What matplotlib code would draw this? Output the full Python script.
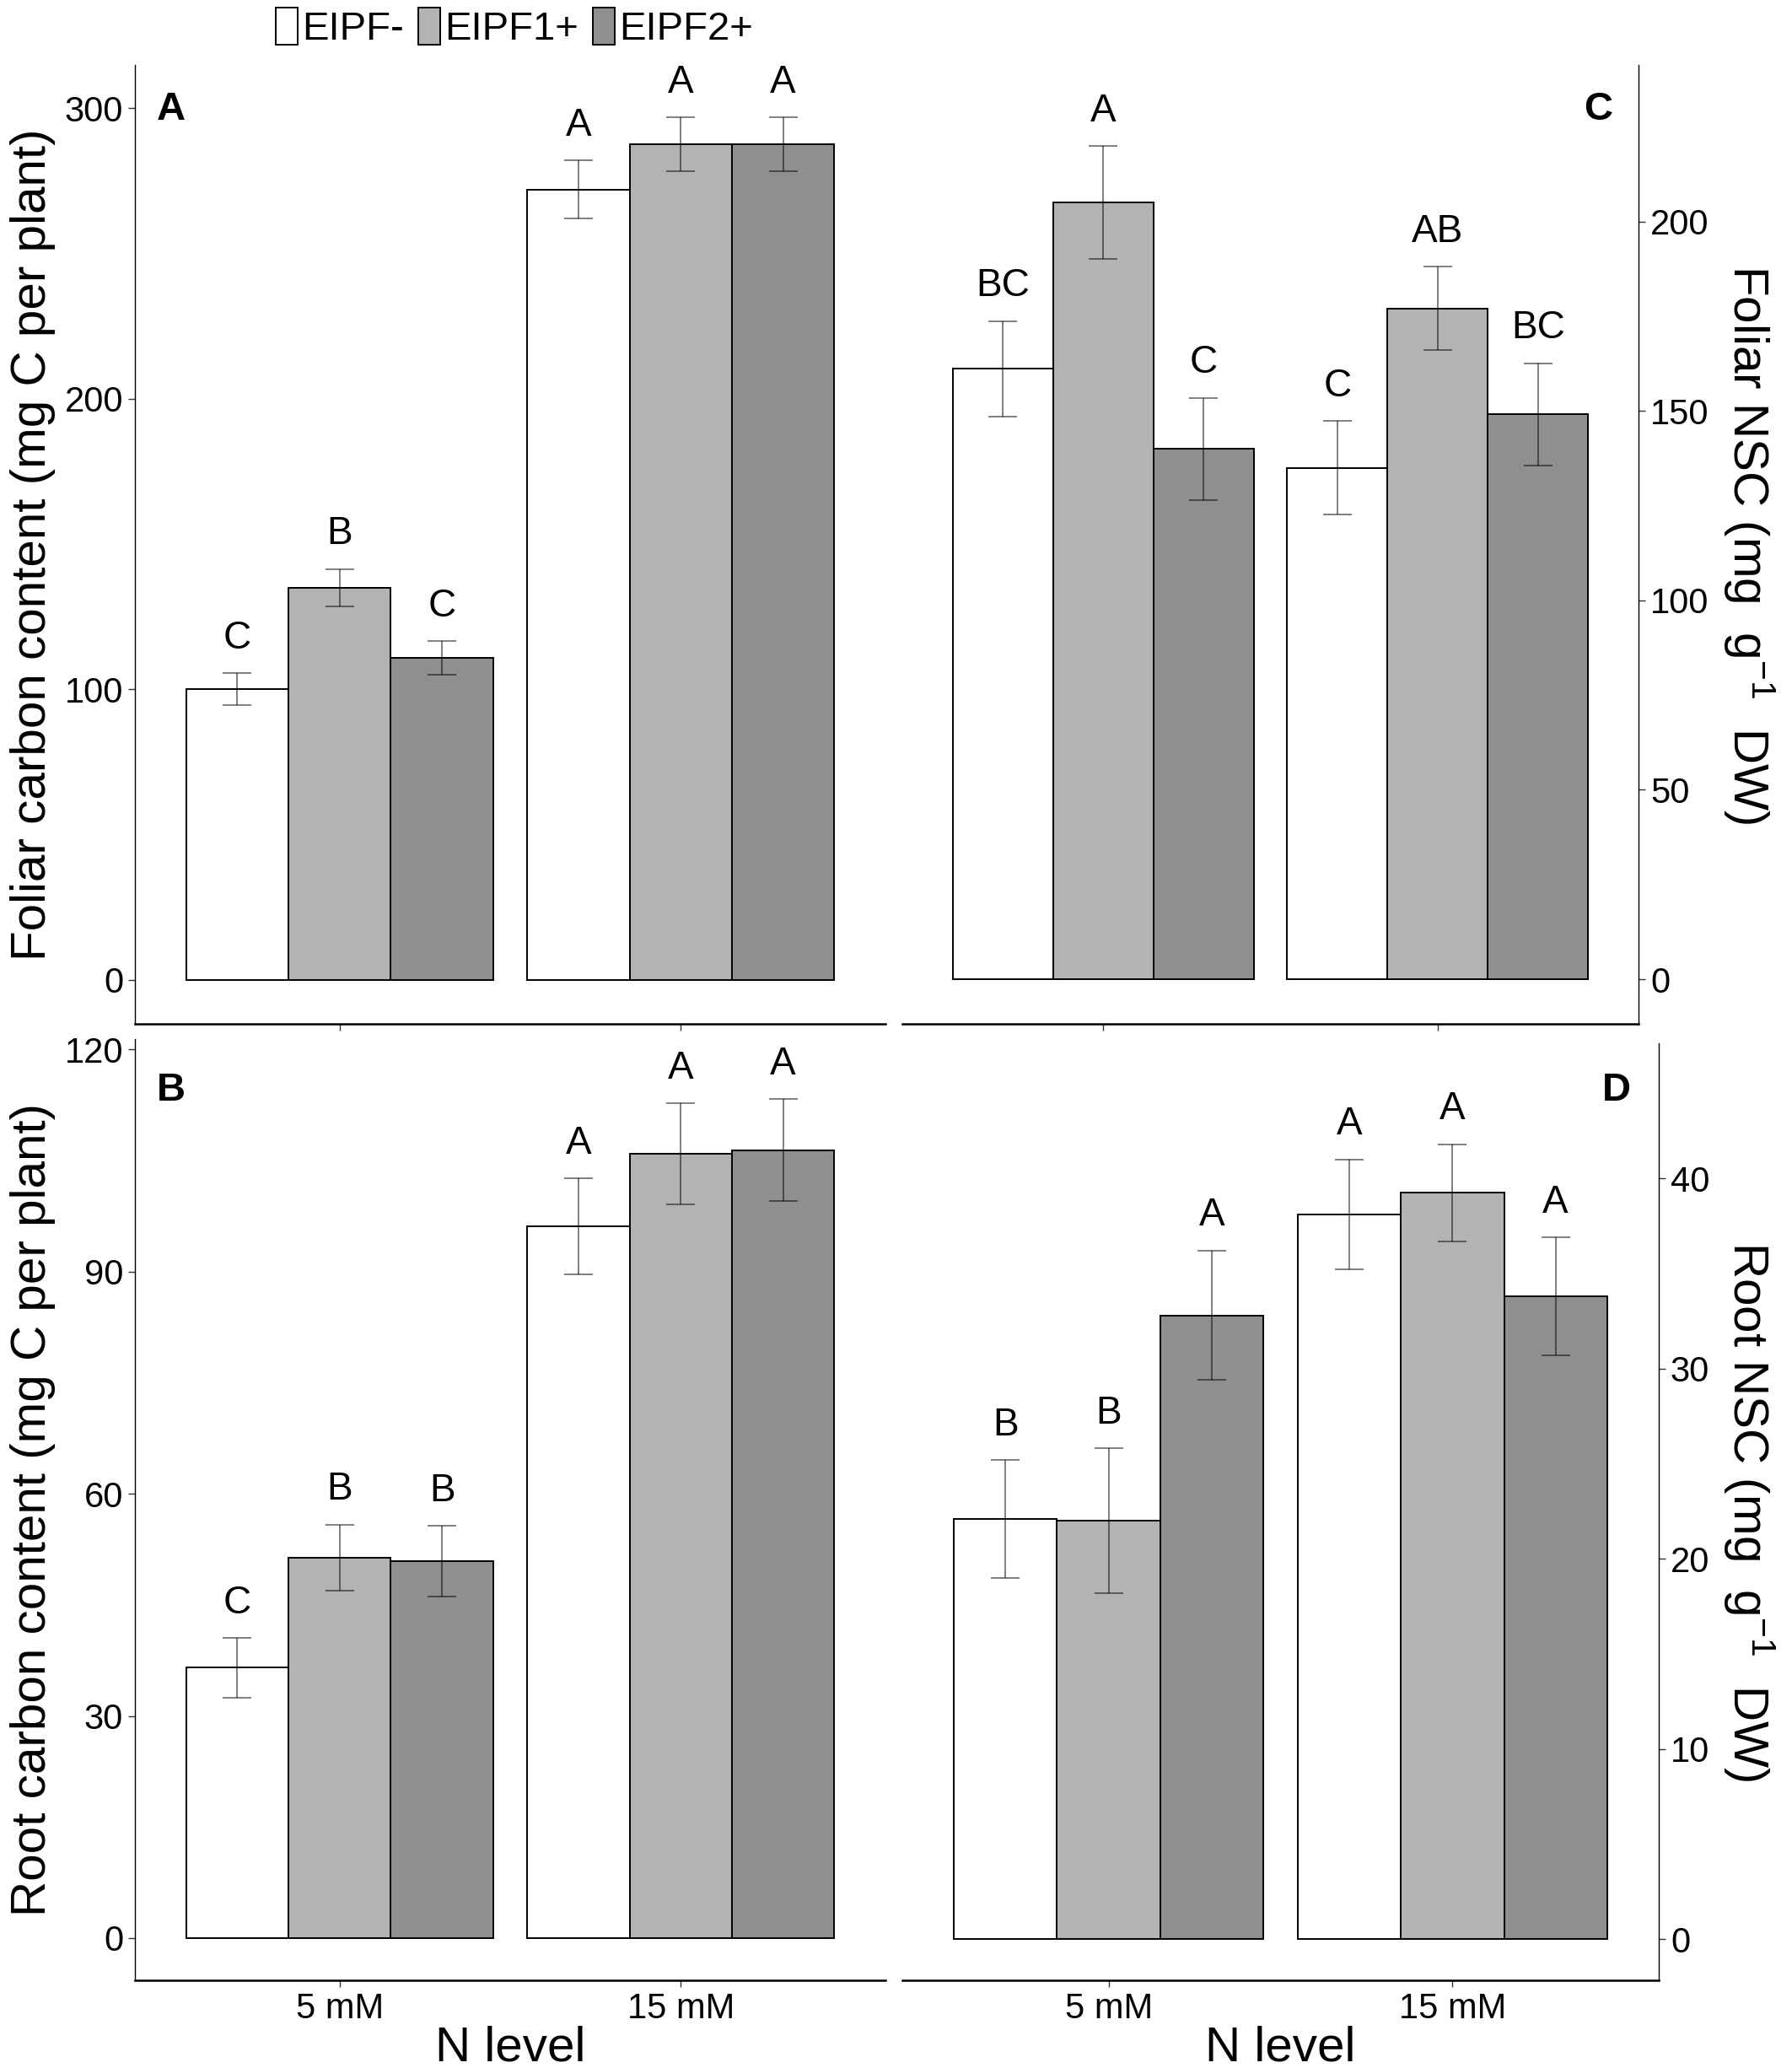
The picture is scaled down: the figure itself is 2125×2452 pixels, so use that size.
import numpy as np
import matplotlib
matplotlib.use("Agg")
import matplotlib.pyplot as plt
from matplotlib.patches import Patch

plt.rcParams['font.family'] = ['Liberation Sans', 'DejaVu Sans']
plt.rcParams['mathtext.fontset'] = 'custom'
plt.rcParams['mathtext.rm'] = 'Liberation Sans'
plt.rcParams['mathtext.it'] = 'Liberation Sans:italic'

# ---- data ----
n_levels = ["5 mM", "15 mM"]
groups = ["EIPF-", "EIPF1+", "EIPF2+"]

# Panel A: Foliar carbon content (mg C per plant)
a_mean = [[100.0, 272.0], [135.0, 287.5], [110.7, 287.5]]
a_se = [[5.5, 10.0], [6.4, 9.3], [5.8, 9.3]]
a_let = [["C", "A"], ["B", "A"], ["C", "A"]]

# Panel C: Foliar NSC (mg g-1 DW)
c_mean = [[161.2, 135.0], [205.1, 177.1], [140.0, 149.1]]
c_se = [[12.6, 12.4], [14.9, 11.0], [13.5, 13.5]]
c_let = [["BC", "C"], ["A", "AB"], ["C", "BC"]]

# Panel B: Root carbon content (mg C per plant)
b_mean = [[36.5, 96.1], [51.4, 105.9], [50.9, 106.4]]
b_se = [[4.0, 6.5], [4.45, 6.8], [4.75, 6.9]]
b_let = [["C", "A"], ["B", "A"], ["B", "A"]]

# Panel D: Root NSC (mg g-1 DW)
d_mean = [[22.1, 38.1], [22.0, 39.25], [32.8, 33.8]]
d_se = [[3.1, 2.9], [3.8, 2.55], [3.4, 3.1]]
d_let = [["B", "A"], ["B", "A"], ["A", "A"]]

colors = ["#FFFFFF", "#B3B3B3", "#8F8F8F"]

W, H = 2125, 2452
fig = plt.figure(figsize=(W / 200, H / 200), dpi=200)

def rect(x0, y0, x1, y1):
    return [x0 / W, 1 - y1 / H, (x1 - x0) / W, (y1 - y0) / H]

axA = fig.add_axes(rect(160, 77, 1050, 1214))
axC = fig.add_axes(rect(1070, 77, 1943, 1214))
axB = fig.add_axes(rect(160, 1232, 1050, 2348))
axD = fig.add_axes(rect(1070, 1237, 1967, 2348))

panels = [
    (axA, a_mean, a_se, a_let, (-15.1, 314.8), [0, 100, 200, 300], "left",
     "Foliar carbon content (mg C per plant)", "A", (0.048, 0.953), False, -0.106),
    (axC, c_mean, c_se, c_let, (-11.8, 241.4), [0, 50, 100, 150, 200], "right",
     r"Foliar NSC (mg  g$^{-1}$  DW)", "C", (0.945, 0.953), False, 1.151),
    (axB, b_mean, b_se, b_let, (-5.7, 121.4), [0, 30, 60, 90, 120], "left",
     "Root carbon content (mg C per plant)", "B", (0.048, 0.945), True, -0.106),
    (axD, d_mean, d_se, d_let, (-2.15, 47.1), [0, 10, 20, 30, 40], "right",
     r"Root NSC (mg  g$^{-1}$  DW)", "D", (0.944, 0.95), True, 1.120),
]

x = np.arange(1, len(n_levels) + 1)
bw = 0.3
offsets = [-0.3, 0.0, 0.3]

for ax, mean, se, let, ylim, yticks, side, ylab, tag, tagpos, bottom_row, labx in panels:
    for gi in range(3):
        xs = x + offsets[gi]
        ax.bar(xs, mean[gi], width=bw, color=colors[gi], edgecolor="black",
               linewidth=0.7, zorder=2)
        ax.errorbar(xs, mean[gi], yerr=se[gi], fmt="none", ecolor=(0, 0, 0, 0.5),
                    elinewidth=0.7, capsize=6, capthick=0.7, zorder=3)
        for xi, m, s, l in zip(xs, mean[gi], se[gi], let[gi]):
            ax.annotate(l, (xi, m + s), xytext=(0, 7), textcoords="offset points",
                        ha="center", va="bottom", fontsize=16.5)
    ax.set_xlim(0.4, 2.6)
    ax.set_ylim(*ylim)
    ax.set_yticks(yticks)
    ax.set_xticks(x)
    ax.spines["top"].set_visible(False)
    ax.spines["bottom"].set_linewidth(0.9)
    if side == "left":
        ax.spines["right"].set_visible(False)
        ax.spines["left"].set_linewidth(0.5)
        ax.yaxis.tick_left()
        ax.set_ylabel(ylab, fontsize=21)
        ax.yaxis.set_label_coords(labx, 0.5)
    else:
        ax.spines["left"].set_visible(False)
        ax.spines["right"].set_linewidth(0.5)
        ax.yaxis.tick_right()
        ax.yaxis.set_label_position("right")
        ax.set_ylabel(ylab, fontsize=21, rotation=270, va="center")
        ax.yaxis.set_label_coords(labx, 0.5)
    ax.tick_params(axis="both", length=3, width=0.5, labelsize=15, pad=2,
                   color="#333333")
    if bottom_row:
        ax.set_xticklabels(n_levels)
        ax.set_xlabel("N level", fontsize=21, labelpad=0)
    else:
        ax.set_xticklabels([])
    ax.text(tagpos[0], tagpos[1], tag, transform=ax.transAxes, fontsize=17,
            fontweight="bold", ha="center", va="center")

handles = [Patch(facecolor=c, edgecolor="black", linewidth=0.7) for c in colors]
fig.legend(handles, groups, loc="center", bbox_to_anchor=(0.287, 0.9865), ncol=3,
           frameon=False, fontsize=17, handlelength=0.55, handleheight=1.05,
           handletextpad=0.12, columnspacing=0.35, borderpad=0)

fig.savefig("out.png", dpi=200, facecolor="white")
